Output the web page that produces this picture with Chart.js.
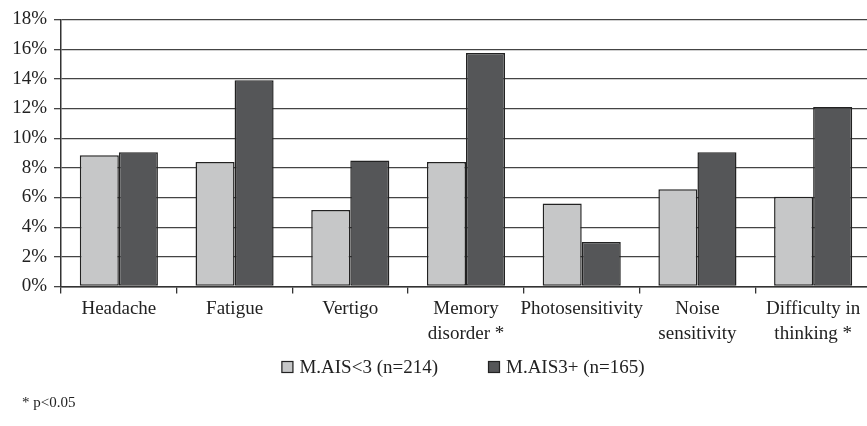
<!DOCTYPE html>
<html>
<head>
<meta charset="utf-8">
<script src="https://cdn.jsdelivr.net/npm/chart.js@4.4.1/dist/chart.umd.min.js"></script>
<style>
  html, body { margin: 0; padding: 0; background: #fff; overflow: hidden; }
  #clip { width: 867px; height: 426px; overflow: hidden; }
  #wrap { width: 871px; height: 426px; position: relative; }
</style>
</head>
<body>
<div id="clip"><div id="wrap"><canvas id="chart"></canvas></div></div>
<script>
// categories and series (percent)
const categories = ['Headache', 'Fatigue', 'Vertigo', ['Memory', 'disorder *'], 'Photosensitivity', ['Noise', 'sensitivity'], ['Difficulty in', 'thinking *']];
const seriesLow = [8.85, 8.4, 5.15, 8.4, 5.6, 6.55, 6.05];
const seriesHigh = [9.05, 13.9, 8.5, 15.75, 3.0, 9.05, 12.1];
const seriesNames = ['M.AIS<3 (n=214)', 'M.AIS3+ (n=165)'];
const yTicks = [0, 2, 4, 6, 8, 10, 12, 14, 16, 18];
const footnote = '* p<0.05';

const serif = "'Liberation Serif', 'DejaVu Serif', serif";
const textColor = '#222';

// legend row under the axis labels + footnote, drawn on the canvas
const bottomText = {
    id: 'bottomText',
    afterDraw(chart) {
        const ctx = chart.ctx;
        const area = chart.chartArea;
        ctx.save();
        ctx.font = '19px ' + serif;
        ctx.textBaseline = 'middle';
        const box = 12, gapText = 6, gapItem = 50, y = 367;
        const items = chart.data.datasets.map(ds => ({ text: ds.label, fill: ds.backgroundColor, w: ctx.measureText(ds.label).width }));
        let total = 0;
        items.forEach((it, i) => { total += box + gapText + it.w + (i ? gapItem : 0); });
        let x = (area.left + area.right) / 2 - 3 - total / 2;
        items.forEach(it => {
            ctx.fillStyle = it.fill;
            ctx.fillRect(x, y - box / 2, box, box);
            ctx.strokeStyle = '#222';
            ctx.lineWidth = 1.2;
            ctx.strokeRect(x + 0.5, y - box / 2 + 0.5, box - 1, box - 1);
            ctx.fillStyle = textColor;
            ctx.textAlign = 'left';
            ctx.fillText(it.text, x + box + gapText, y + 1);
            x += box + gapText + it.w + gapItem;
        });
        ctx.font = '15px ' + serif;
        ctx.fillText(footnote, 22, 403);
        ctx.restore();
    }
};

new Chart(document.getElementById('chart').getContext('2d'), {
    type: 'bar',
    data: {
        labels: categories,
        datasets: [
            { label: seriesNames[0], data: seriesLow, backgroundColor: '#c6c7c8', borderColor: '#222', borderWidth: 1.5, borderSkipped: false },
            { label: seriesNames[1], data: seriesHigh, backgroundColor: '#555658', borderColor: '#222', borderWidth: 1.5, borderSkipped: false }
        ]
    },
    plugins: [bottomText],
    options: {
        responsive: true,
        maintainAspectRatio: false,
        animation: false,
        layout: { padding: { top: 19.5, right: 0, left: 0, bottom: 67.5 } },
        datasets: { bar: { categoryPercentage: 0.675, barPercentage: 1 } },
        plugins: {
            legend: { display: false },
            tooltip: { enabled: false }
        },
        scales: {
            x: {
                afterFit: axis => { axis.height = 72; },
                grid: { offset: true, drawOnChartArea: false, color: '#333', tickLength: 7, lineWidth: 1.3 },
                border: { color: '#333', width: 1.5 },
                ticks: { font: { family: serif, size: 19, lineHeight: 1.3 }, color: textColor, maxRotation: 0, autoSkip: false, padding: 3 }
            },
            y: {
                min: 0,
                max: 18,
                afterBuildTicks: axis => { axis.ticks = yTicks.map(v => ({ value: v })); },
                afterFit: axis => { axis.width = 61; },
                grid: { color: '#444', lineWidth: 1.3, tickLength: 7 },
                border: { color: '#333', width: 1.5 },
                ticks: { font: { family: serif, size: 19 }, color: textColor, padding: 7, callback: v => v + '%' }
            }
        }
    }
});
</script>
</body>
</html>
